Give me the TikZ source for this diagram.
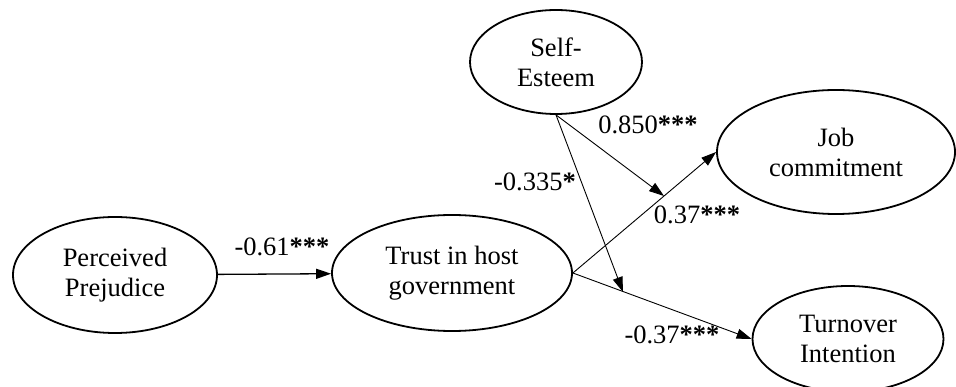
\documentclass[tikz,border=0pt]{standalone}
\usepackage{fontspec}
\setmainfont{Liberation Serif}
\usetikzlibrary{shapes.geometric,arrows.meta}

\newcommand{\sig}[1]{{\bfseries #1}}

\begin{document}
\begin{tikzpicture}[x=1pt,y=-1pt,
    var/.style={shape=ellipse, draw, line width=1.8pt, inner sep=0pt, align=center,
      font=\fontsize{26.5}{30}\selectfont},
    effect/.style={-{Triangle[length=15pt,width=10pt]}, line width=0.9pt},
    coef/.style={font=\fontsize{26.5}{30}\selectfont}]
    \clip (0,0) rectangle (956,387);
    \node[var, minimum width=204pt, minimum height=116pt] (prej) at (115,275) {Perceived\\Prejudice};
    \node[var, minimum width=240pt, minimum height=116pt] (trust) at (452,273) {Trust in host\\government};
    \node[var, minimum width=172pt, minimum height=104pt] (self) at (556,62) {Self-\\Esteem};
    \node[var, minimum width=238pt, minimum height=124pt] (job) at (836,152) {Job\\commitment};
    \node[var, minimum width=191pt, minimum height=106pt] (turn) at (848,339) {Turnover\\Intention};

    \coordinate (modjob) at (664,196);
    \coordinate (modturn) at (623,292);

    \draw[effect, line width=1.3pt] (prej) -- (trust);
    \draw[effect] (trust.east) -- (job.west);
    \draw[effect] (trust.east) -- (turn.west);
    \draw[effect] (self.south) -- (modjob);
    \draw[effect] (self.south) -- (modturn);

    \node[coef] (c1) at (282,247) {-0.61\sig{***}};
    \node[coef] (c2) at (648,125) {0.850\sig{***}};
    \node[coef] (c3) at (535,182) {-0.335\sig{*}};
    \node[coef] (c4) at (697,215) {0.37\sig{***}};
    \node[coef] (c5) at (672,335) {-0.37\sig{***}};
  \end{tikzpicture}
\end{document}
